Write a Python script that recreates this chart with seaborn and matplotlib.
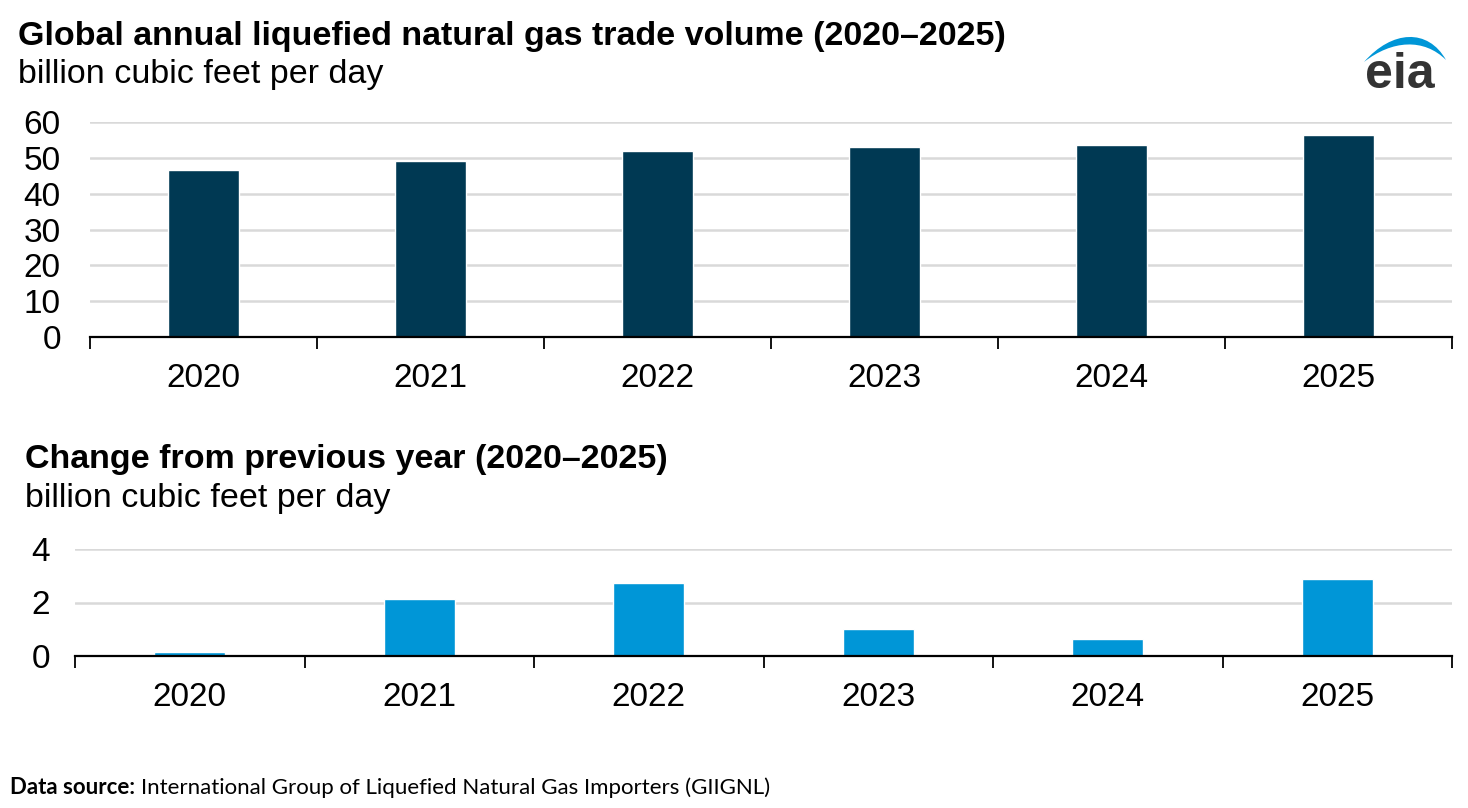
import matplotlib
matplotlib.use('Agg')
import matplotlib.pyplot as plt
import seaborn as sns
import pandas as pd
import numpy as np
from matplotlib.patches import PathPatch
from matplotlib.path import Path
from matplotlib.ticker import FixedLocator

# Data
years = ['2020', '2021', '2022', '2023', '2024', '2025']
trade_volume = [46.7, 49.1, 51.8, 52.9, 53.6, 56.3]
yearly_change = [0.15, 2.13, 2.73, 1.02, 0.63, 2.89]

dark_blue = '#003953'
light_blue = '#0096d7'
grid_gray = '#d9d9d9'

sns.set_theme(style='white')
plt.rcParams['font.family'] = ['Liberation Sans', 'DejaVu Sans']

fig = plt.figure(figsize=(14.68, 8.08), dpi=100)
W, H = 1468, 808


def style_axis(ax, ymax, yticks, label_pad):
    ax.set_xlim(-0.5, len(years) - 0.5)
    ax.set_ylim(0, ymax)
    ax.set_yticks(yticks)
    ax.set_xlabel('')
    ax.set_ylabel('')
    for side in ['left', 'right', 'top']:
        ax.spines[side].set_visible(False)
    ax.spines['bottom'].set_color('black')
    ax.spines['bottom'].set_linewidth(1.6)
    ax.spines['bottom'].set_zorder(5)
    ax.yaxis.grid(True, color=grid_gray, linewidth=1.8)
    ax.set_axisbelow(True)
    ax.tick_params(axis='y', left=True, length=0, labelsize=24, pad=label_pad, colors='black')
    ax.tick_params(axis='x', which='major', bottom=True, length=0, labelsize=24, pad=19,
                   colors='black')
    ax.xaxis.set_minor_locator(FixedLocator(np.arange(-0.5, len(years), 1.0)))
    ax.tick_params(axis='x', which='minor', bottom=True, length=8.5, width=1.3,
                   color='black', direction='out')


# --- top panel: trade volume ---
ax1 = fig.add_axes([90 / W, 1 - 337 / H, (1452 - 90) / W, (337 - 122) / H])
df1 = pd.DataFrame({'year': years, 'volume': trade_volume})
sns.barplot(data=df1, x='year', y='volume', color=dark_blue, width=0.31,
            saturation=1, ax=ax1)
style_axis(ax1, 60, [0, 10, 20, 30, 40, 50, 60], 21)

# --- bottom panel: change from previous year ---
ax2 = fig.add_axes([75 / W, 1 - 656 / H, (1452 - 75) / W, (656 - 549) / H])
df2 = pd.DataFrame({'year': years, 'change': yearly_change})
sns.barplot(data=df2, x='year', y='change', color=light_blue, width=0.31,
            saturation=1, ax=ax2)
style_axis(ax2, 4, [0, 2, 4], 18)

# titles
fig.text(18 / W, 1 - 45 / H, 'Global annual liquefied natural gas trade volume (2020\u20132025)',
         fontsize=24.5, fontweight='bold', va='baseline', ha='left', color='black')
fig.text(18 / W, 1 - 83 / H, 'billion cubic feet per day',
         fontsize=24.5, va='baseline', ha='left', color='black')
fig.text(25 / W, 1 - 468 / H, 'Change from previous year (2020\u20132025)',
         fontsize=24.5, fontweight='bold', va='baseline', ha='left', color='black')
fig.text(25 / W, 1 - 507 / H, 'billion cubic feet per day',
         fontsize=24.5, va='baseline', ha='left', color='black')

# source line
src_font = ['Lato', 'DejaVu Sans']
t1 = fig.text(10 / W, 1 - 788 / H, 'Data source:', fontsize=16, fontweight='bold',
              family=src_font, va='center', ha='left', color='black')
fig.canvas.draw()
bb = t1.get_window_extent()
fig.text((bb.x1 + 6) / W, 1 - 788 / H,
         'International Group of Liquefied Natural Gas Importers (GIIGNL)',
         fontsize=16, family=src_font, va='center', ha='left', color='black')

# eia logo
fig.text(1400 / W, 1 - 88 / H, 'eia', fontsize=36, fontweight='bold',
         color='#333333', ha='center', va='baseline')
logo_ax = fig.add_axes([1350 / W, 1 - 100 / H, 110 / W, 80 / H])
logo_ax.set_xlim(1350, 1460)
logo_ax.set_ylim(100, 20)
logo_ax.axis('off')
verts = [(1364, 62), (1392, 30), (1428, 28), (1446, 60),
         (1424, 38), (1392, 40), (1364, 62), (1364, 62)]
codes = [Path.MOVETO, Path.CURVE4, Path.CURVE4, Path.CURVE4,
         Path.CURVE4, Path.CURVE4, Path.CURVE4, Path.CLOSEPOLY]
logo_ax.add_patch(PathPatch(Path(verts, codes), facecolor=light_blue, edgecolor='none'))

fig.savefig('out.png', dpi=100, facecolor='white')
